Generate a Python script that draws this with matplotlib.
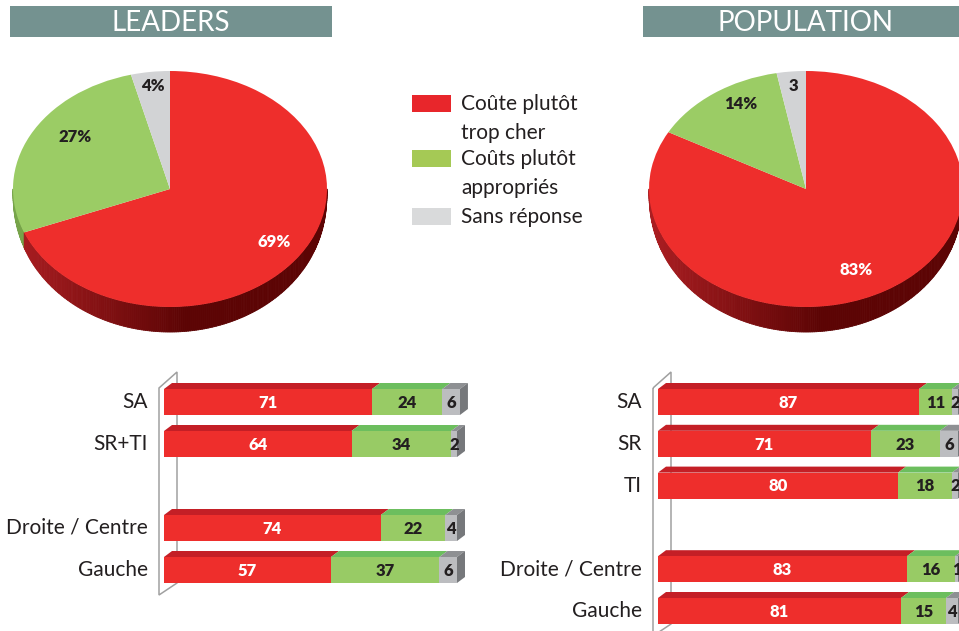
import numpy as np
import matplotlib.pyplot as plt
from matplotlib.patches import Polygon, Rectangle
from matplotlib.collections import PolyCollection

plt.rcParams['font.family'] = ['Lato', 'DejaVu Sans']

# chart values
answers = ["Coûte plutôt\ntrop cher", "Coûts plutôt\nappropriés", "Sans réponse"]

leaders_pie = [69, 27, 4]
leaders_pie_labels = ["69%", "27%", "4%"]
population_pie = [83, 14, 3]
population_pie_labels = ["83%", "14%", "3"]

leaders_groups = ["SA", "SR+TI", "Droite / Centre", "Gauche"]
leaders_cher = [71, 64, 74, 57]
leaders_appr = [24, 34, 22, 37]
leaders_nr = [6, 2, 4, 6]

population_groups = ["SA", "SR", "TI", "Droite / Centre", "Gauche"]
population_cher = [87, 71, 80, 83, 81]
population_appr = [11, 23, 18, 16, 15]
population_nr = [2, 6, 2, 1, 4]

# styling
W, H = 959, 631
HEADER = "#749290"
INK = "#231F20"
pie_colors = ["#EE2E2C", "#9BCC65", "#D2D3D5"]
side_light = [(172, 30, 34), (120, 165, 75), (170, 170, 174)]
side_dark = [(92, 4, 4), (80, 120, 45), (120, 120, 124)]
front_colors = ["#EE2E2C", "#98CB65", "#BCBDC0"]
top_colors = ["#C41F26", "#6CBE5E", "#8E9093"]
side_color = "#76787B"
value_colors = ["white", INK, INK]
legend_colors = ["#E8262B", "#A5C955", "#D9DADB"]

fig = plt.figure(figsize=(W / 100, H / 100), dpi=100)


def px_axes(x0, y0, sx, sy):
    # full-figure axes, y pointing down, origin at pixel (x0, y0)
    ax = fig.add_axes([0, 0, 1, 1])
    ax.set_xlim(-x0 / sx, (W - x0) / sx)
    ax.set_ylim((H - y0) / sy, -y0 / sy)
    ax.axis('off')
    ax.patch.set_alpha(0)
    return ax


def draw_pie(cx, cy, values, labels, label_r, label_turn, label_colors):
    rx, ry, depth = 157, 118, 25
    ax = fig.add_axes([0, 0, 1, 1])
    wedges, _ = ax.pie(values, colors=pie_colors, startangle=90, counterclock=False,
                       wedgeprops=dict(linewidth=0))
    ax.set_aspect('auto')
    ax.set_xlim(-cx / rx, (W - cx) / rx)
    ax.set_ylim(-(H - cy) / ry, cy / ry)
    ax.axis('off')
    ax.patch.set_alpha(0)
    for w in wedges:
        w.set_zorder(3)

    # rim of the pie, thicker toward the front
    d = depth / ry
    t = np.radians(np.linspace(180, 360, 241))
    polys, cols = [], []
    for a0, a1 in zip(t[:-1], t[1:]):
        m = np.degrees((a0 + a1) / 2)
        k = 0
        for i, w in enumerate(wedges):
            if (m - w.theta1) % 360 <= (w.theta2 - w.theta1):
                k = i
        f = np.clip((np.cos((a0 + a1) / 2) + 1) / 1.1, 0, 1)
        c = np.array(side_light[k]) * (1 - f) + np.array(side_dark[k]) * f
        cols.append(c / 255)
        d0 = d * np.sqrt(max(-np.sin(a0), 0))
        d1 = d * np.sqrt(max(-np.sin(a1), 0))
        polys.append([(np.cos(a0), np.sin(a0)), (np.cos(a1), np.sin(a1)),
                      (np.cos(a1), np.sin(a1) - d1), (np.cos(a0), np.sin(a0) - d0)])
    ax.add_collection(PolyCollection(polys, facecolors=cols, edgecolors=cols,
                                     linewidths=0.6, zorder=2))

    for w, lab, r, turn, c in zip(wedges, labels, label_r, label_turn, label_colors):
        a = np.radians((w.theta1 + w.theta2) / 2 + turn)
        ax.text(r * np.cos(a), r * np.sin(a), lab, ha='center', va='center',
                fontsize=12, fontweight='heavy', color=c, zorder=5)


def draw_bars(x0, y0, sx, sy, groups, rows, series):
    ax = px_axes(x0, y0, sx, sy)
    h = 26 / sy
    dx, dy = 8 / sx, 6 / sy
    rows = np.array(rows, dtype=float)

    wall = [(-5 / sx, rows[0] - 14 / sy), (13 / sx, rows[0] - 30 / sy),
            (13 / sx, rows[-1] + 13 / sy), (-5 / sx, rows[-1] + 25 / sy)]
    ax.add_patch(Polygon(wall, closed=True, fill=False, edgecolor="#A0A0A0",
                         linewidth=1.1, zorder=1))

    left = np.zeros(len(rows))
    for vals, fc, tc, vc in zip(series, front_colors, top_colors, value_colors):
        vals = np.array(vals, dtype=float)
        ax.barh(rows, vals, left=left, height=h, color=fc, linewidth=0, zorder=4)
        for r, l, v in zip(rows, left, vals):
            top = [(l, r - h / 2), (l + v, r - h / 2),
                   (l + v + dx, r - h / 2 - dy), (l + dx, r - h / 2 - dy)]
            ax.add_patch(Polygon(top, closed=True, facecolor=tc, linewidth=0, zorder=3))
            ax.text(l + v / 2, r + 0.02, f"{v:.0f}", ha='center', va='center',
                    fontsize=12, fontweight='heavy', color=vc, zorder=6)
        left = left + vals
    for r, l in zip(rows, left):
        side = [(l, r - h / 2), (l + dx, r - h / 2 - dy),
                (l + dx, r + h / 2 - dy), (l, r + h / 2)]
        ax.add_patch(Polygon(side, closed=True, facecolor=side_color, linewidth=0, zorder=3))

    for r, g in zip(rows, groups):
        ax.text(-16 / sx, r, g, ha='right', va='center', fontsize=15, color=INK)


# headers and legend
ax0 = px_axes(0, 0, 1, 1)
for x, w, title in [(10, 322, "LEADERS"), (643, 324, "POPULATION")]:
    ax0.add_patch(Rectangle((x, 6), w, 31, facecolor=HEADER, linewidth=0))
    ax0.text(x + w / 2, 23, title, ha='center', va='center', fontsize=20, color='white')

legend_y = [103, 158, 216]
for y, lab, c in zip(legend_y, answers, legend_colors):
    ax0.add_patch(Rectangle((412, y - 8.5), 39, 17, facecolor=c, linewidth=0))
    ax0.text(461, y - 9, lab, ha='left', va='top', fontsize=15, color=INK,
             linespacing=1.58)

draw_pie(170, 189, leaders_pie, leaders_pie_labels, [0.8, 0.75, 0.88], [0, -9, 0],
         ["white", INK, INK])
draw_pie(806, 189, population_pie, population_pie_labels, [0.76, 0.83, 0.88], [-5.7, -5.7, 0],
         ["white", INK, INK])

draw_bars(164, 402, 2.93, 42, leaders_groups, [0, 1, 3, 4],
          [leaders_cher, leaders_appr, leaders_nr])
draw_bars(658, 402, 3.0, 41.8, population_groups, [0, 1, 2, 4, 5],
          [population_cher, population_appr, population_nr])

fig.savefig("out.png", dpi=100)
